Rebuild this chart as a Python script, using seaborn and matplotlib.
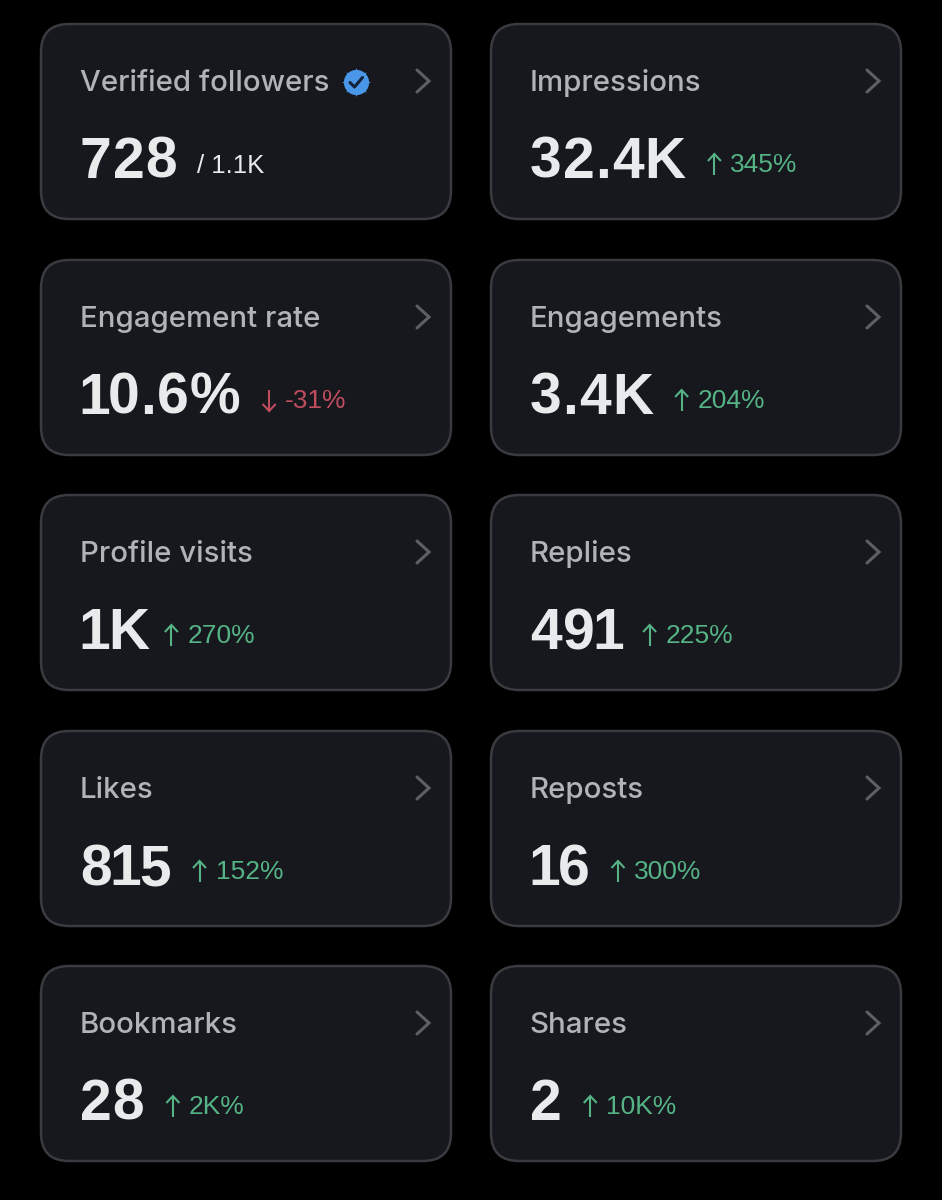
"""
Rebuilds the dark analytics card grid (two columns, five rows) with seaborn/matplotlib.
"""

import matplotlib
matplotlib.use("Agg")
import matplotlib.pyplot as plt
from matplotlib.patches import FancyBboxPatch
import pandas as pd
import seaborn as sns

# Card contents, read left to right, top to bottom
titles = ["Verified followers", "Impressions", "Engagement rate", "Engagements",
          "Profile visits", "Replies", "Likes", "Reposts", "Bookmarks", "Shares"]
values = ["728", "32.4K", "10.6%", "3.4K", "1K", "491", "815", "16", "28", "2"]
deltas = ["/ 1.1K", "345%", "-31%", "204%", "270%", "225%", "152%", "300%", "2K%", "10K%"]
directions = [None, "up", "down", "up", "up", "up", "up", "up", "up", "up"]

BG = "#000000"
CARD = "#16181d"
BORDER = "#393b40"
TITLE = "#b0b3b8"
VALUE = "#e9eaec"
CHEVRON = "#5d5f64"
GREEN = "#55b385"
RED = "#c04d5e"
BLUE = "#4a97ea"

COL_X = [41, 491]
ROW_Y = [24, 260, 495, 731, 966]
CARD_W, CARD_H = 410, 195

sns.set_theme(style="dark", rc={"axes.facecolor": BG, "figure.facecolor": BG})
plt.rcParams["font.family"] = ["Inter", "DejaVu Sans"]

fig = plt.figure(figsize=(9.42, 12), dpi=100)
ax = fig.add_axes([0, 0, 1, 1])
ax.set_xlim(0, 942)
ax.set_ylim(1200, 0)
ax.axis("off")

renderer = fig.canvas.get_renderer()


def draw_value(x, y, value):
    """Big number, glyph by glyph: the reference has a narrow 1 and a little tracking."""
    for pos, ch in enumerate(value):
        txt = ax.text(x, y, ch, color=VALUE, fontsize=41, fontweight="bold",
                      family=["Liberation Sans", "DejaVu Sans"], va="baseline", ha="left")
        box = txt.get_window_extent(renderer)
        step = (box.x1 - box.x0) + 1
        if ch == "1":
            # pull the 1 to the left inside its wide cell
            txt.set_x(x - (2 if pos == 0 else 3))
            step -= 5 if pos == 0 else 6
        x += step
    return x


def draw_arrow(x, top, bottom, color, up=True):
    """Thin arrow with a small open head."""
    tip, tail = (top, bottom) if up else (bottom, top)
    head = 7 if up else -7
    ax.plot([x, x], [tail, tip], color=color, lw=1.5, solid_capstyle="butt")
    ax.plot([x - 6.5, x, x + 6.5], [tip + head, tip, tip + head], color=color, lw=1.5,
            solid_joinstyle="miter", solid_capstyle="butt")


def draw_badge(x, y):
    """Blue verified badge with a dark tick."""
    badge = pd.DataFrame({"x": [x], "y": [y]})
    sns.scatterplot(data=badge, x="x", y="y", ax=ax, s=430, color=BLUE, marker=(8, 1, 0),
                    linewidth=0, legend=False, zorder=4)
    sns.scatterplot(data=badge, x="x", y="y", ax=ax, s=330, color=BLUE, marker="o",
                    linewidth=0, legend=False, zorder=4)
    ax.plot([x - 6, x - 1.5, x + 6.5], [y + 0.5, y + 5, y - 4.5], color="#14233a", lw=2.2, zorder=5)


for i, title in enumerate(titles):
    left = COL_X[i % 2]
    top = ROW_Y[i // 2]

    card = FancyBboxPatch((left + 28, top + 28), CARD_W - 56, CARD_H - 56,
                          boxstyle="round,pad=28,rounding_size=28",
                          facecolor=CARD, edgecolor=BORDER, linewidth=1.8)
    ax.add_patch(card)

    title_txt = ax.text(left + 38.5, top + 67, title, color=TITLE, fontsize=21.2,
                        fontweight="medium", family=["Inter", "DejaVu Sans"],
                        va="baseline", ha="left")

    # chevron on the right of the card
    cx = left + 376
    cy = top + 57
    ax.plot([cx, cx + 12, cx], [cy - 11, cy, cy + 11], color=CHEVRON, lw=2.2,
            solid_joinstyle="miter")

    val_end = draw_value(left + 39, top + 154, values[i])

    # the delta sits right after the big number
    start = val_end + 20.5
    if values[i] == "1K":
        start -= 6

    if directions[i] is None:
        ax.text(start - 1.5, top + 149, deltas[i], color=VALUE, fontsize=18.5,
                family=["Liberation Sans", "DejaVu Sans"], va="baseline", ha="left")
        title_end = title_txt.get_window_extent(renderer).x1
        draw_badge(title_end + 27, top + 58)
    else:
        color = GREEN if directions[i] == "up" else RED
        draw_arrow(start + 7, top + 130, top + 151, color, up=directions[i] == "up")
        ax.text(start + 23, top + 148, deltas[i], color=color, fontsize=19,
                family=["Liberation Sans", "DejaVu Sans"], va="baseline", ha="left")

ax.set_xlim(0, 942)
ax.set_ylim(1200, 0)
fig.savefig("out.png", dpi=100, facecolor=BG)
plt.close(fig)
